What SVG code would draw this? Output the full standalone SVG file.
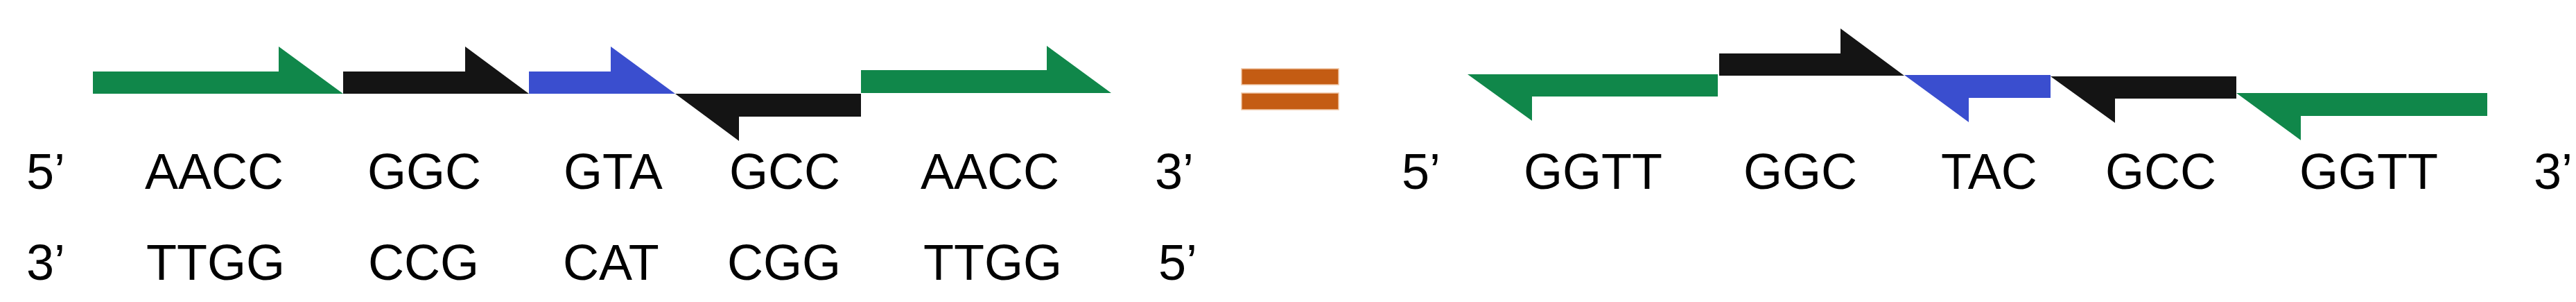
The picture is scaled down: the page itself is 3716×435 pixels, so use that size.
<svg xmlns="http://www.w3.org/2000/svg" width="3716" height="435" viewBox="0 0 3716 435">
<style>
.g{fill:#10874a}.k{fill:#141414}.b{fill:#3a4ecf}
.eq{fill:#c45c13;stroke:#f0c4a2;stroke-width:1.5}
text{font-family:"Liberation Sans",Arial,sans-serif;font-size:72px;fill:#000}
</style>
<rect width="3716" height="435" fill="#fff"/>
<g id="left-arrows">
<polygon id="l1" class="g" points="134,103 402,103 402,67 495,135 134,135"/>
<polygon id="l2" class="k" points="495,103 671,103 671,67 763,135 495,135"/>
<polygon id="l3" class="b" points="763,103 881,103 881,67 974,135 763,135"/>
<polygon id="l4" class="k" points="974,135 1242,135 1242,168 1066,168 1066,203"/>
<polygon id="l5" class="g" points="1242,101 1510,101 1510,66 1603,134 1242,134"/>
</g>
<g id="equals">
<rect class="eq" x="1791" y="99" width="140" height="23"/>
<rect class="eq" x="1791" y="134" width="140" height="24"/>
</g>
<g id="right-arrows">
<polygon id="r1" class="g" points="2117,107 2478,107 2478,139 2210,139 2210,174"/>
<polygon id="r2" class="k" points="2480,77 2655,77 2655,41 2747,109 2480,109"/>
<polygon id="r3" class="b" points="2747,108 2958,108 2958,141 2840,141 2840,176"/>
<polygon id="r4" class="k" points="2958,110 3226,110 3226,142 3051,142 3051,177"/>
<polygon id="r5" class="g" points="3226,134 3588,134 3588,167 3319,167 3319,202"/>
</g>
<g id="left-top-strand">
<text x="38" y="272">5’</text>
<text x="209" y="272">AACC</text>
<text x="530" y="272">GGC</text>
<text x="813" y="272">GTA</text>
<text x="1052" y="272">GCC</text>
<text x="1328" y="272">AACC</text>
<text x="1666" y="272">3’</text>
</g>
<g id="left-bottom-strand">
<text x="38" y="403">3’</text>
<text x="211" y="403">TTGG</text>
<text x="531" y="403">CCG</text>
<text x="812" y="403">CAT</text>
<text x="1049" y="403">CGG</text>
<text x="1332" y="403">TTGG</text>
<text x="1671" y="403">5’</text>
</g>
<g id="right-strand">
<text x="2022" y="272">5’</text>
<text x="2198" y="272">GGTT</text>
<text x="2515" y="272">GGC</text>
<text x="2800" y="272">TAC</text>
<text x="3037" y="272">GCC</text>
<text x="3317" y="272">GGTT</text>
<text x="3655" y="272">3’</text>
</g>
</svg>
